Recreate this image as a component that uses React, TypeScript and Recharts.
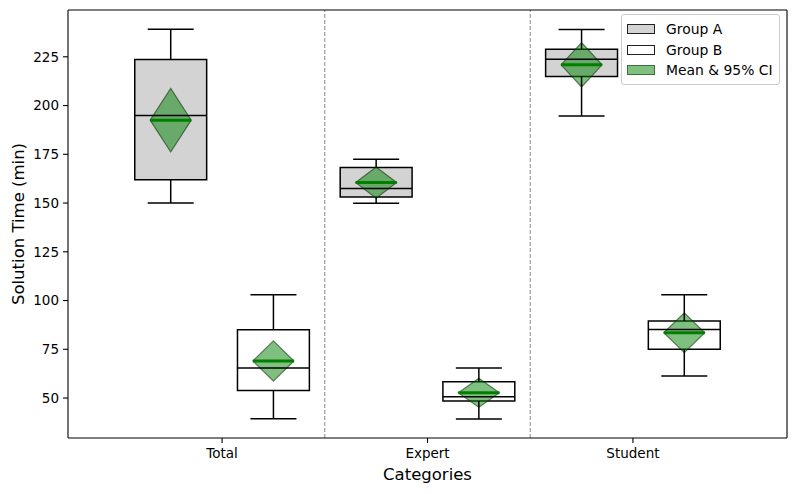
import React from "react";
import {
  ComposedChart,
  XAxis,
  YAxis,
  Scatter,
  ReferenceArea,
  ReferenceLine,
  Legend,
} from "recharts";

const categories = ["Total", "Expert", "Student"];
const yTicks = [50, 75, 100, 125, 150, 175, 200, 225];

// Group A (grey boxes)
const aLow = [150.0, 149.9, 194.7];
const aQ1 = [161.9, 153.1, 214.9];
const aMedian = [194.9, 157.4, 223.8];
const aQ3 = [223.6, 168.2, 228.9];
const aHigh = [239.1, 172.5, 239.0];
const aMean = [192.5, 160.5, 220.9];
const aCi = [16.3, 8.0, 11.4];

// Group B (white boxes)
const bLow = [39.4, 39.2, 61.3];
const bQ1 = [53.9, 48.5, 75.0];
const bMedian = [65.4, 50.7, 85.2];
const bQ3 = [85.0, 58.4, 89.5];
const bHigh = [103.0, 65.4, 103.0];
const bMean = [69.0, 52.7, 83.5];
const bCi = [10.3, 7.5, 10.2];

const legendItems = [
  { label: "Group A", fill: "#d3d3d3", stroke: "#222" },
  { label: "Group B", fill: "#fff", stroke: "#222" },
  { label: "Mean & 95% CI", fill: "rgba(0,128,0,0.5)", stroke: "rgba(0,50,0,0.55)" },
];

const W = 797;
const H = 494;
const X_DOMAIN: [number, number] = [-0.75, 2.75];
const Y_DOMAIN: [number, number] = [29.5, 249];
const OFFSET = 0.25; // group offset from category centre
const BOX = 0.175; // half box width
const CAP = 0.112; // half cap width
const DIA = 0.1; // half diamond width

const boxes = categories.flatMap((c, i) => [
  { key: `${c}-A`, x: i - OFFSET, fill: "#d3d3d3", low: aLow[i], q1: aQ1[i], med: aMedian[i], q3: aQ3[i], high: aHigh[i], mean: aMean[i], ci: aCi[i] },
  { key: `${c}-B`, x: i + OFFSET, fill: "#ffffff", low: bLow[i], q1: bQ1[i], med: bMedian[i], q3: bQ3[i], high: bHigh[i], mean: bMean[i], ci: bCi[i] },
]);

const Diamond = (p: any) => {
  const { x, y, width, height } = p;
  const cx = x + width / 2;
  const cy = y + height / 2;
  return (
    <polygon
      points={`${x},${cy} ${cx},${y} ${x + width},${cy} ${cx},${y + height}`}
      fill="rgba(0,128,0,0.5)"
      stroke="rgba(0,40,0,0.55)"
      strokeWidth={1.2}
    />
  );
};

const Nothing = () => <g />;

const LegendBox = () => (
  <div
    style={{
      background: "rgba(255,255,255,0.8)",
      border: "1px solid #ccc",
      borderRadius: 3,
      padding: "4px 5px 3px 5px",
      fontSize: 13.9,
      color: "#000",
    }}
  >
    {legendItems.map((it) => (
      <div key={it.label} style={{ display: "flex", alignItems: "center", height: 20.5 }}>
        <span
          style={{
            display: "inline-block",
            width: 26,
            height: 8,
            background: it.fill,
            border: `1.5px solid ${it.stroke}`,
            marginRight: 11,
          }}
        />
        <span>{it.label}</span>
      </div>
    ))}
  </div>
);

const line = { stroke: "#000", strokeWidth: 1.5 };
const spine = { stroke: "#000", strokeWidth: 1.1 };

export default function App() {
  return (
    <div style={{ position: "absolute", left: 0, top: 0, fontFamily: "DejaVu Sans", background: "#fff" }}>
      <ComposedChart width={W} height={H} data={boxes} margin={{ top: 9, right: 9, bottom: 6, left: 8 }}>
        <XAxis
          type="number"
          dataKey="x"
          domain={X_DOMAIN}
          allowDataOverflow
          ticks={[0, 1, 2]}
          tickFormatter={(v) => categories[v] ?? ""}
          tickSize={5}
          tickMargin={5}
          height={50}
          axisLine={spine}
          tickLine={spine}
          tick={{ fill: "#000", fontSize: 13.5 }}
          label={{ value: "Categories", position: "insideBottom", offset: 8, style: { fontSize: 16.5, fill: "#000" } }}
        />
        <XAxis xAxisId="top" orientation="top" type="number" dataKey="x" domain={X_DOMAIN} allowDataOverflow height={1} tick={false} tickLine={false} axisLine={spine} />
        <YAxis
          type="number"
          domain={Y_DOMAIN}
          allowDataOverflow
          ticks={yTicks}
          width={60}
          tickSize={5}
          tickMargin={4}
          axisLine={spine}
          tickLine={spine}
          tick={{ fill: "#000", fontSize: 13.5 }}
          label={{
            value: "Solution Time (min)",
            angle: -90,
            position: "insideLeft",
            offset: 10,
            style: { fontSize: 16.5, fill: "#000", textAnchor: "middle" },
          }}
        />
        <YAxis yAxisId="right" orientation="right" type="number" domain={Y_DOMAIN} allowDataOverflow width={1} tick={false} tickLine={false} axisLine={spine} />

        <Scatter dataKey="mean" shape={<Nothing />} isAnimationActive={false} legendType="none" />
        <Scatter dataKey="mean" xAxisId="top" yAxisId="right" shape={<Nothing />} isAnimationActive={false} legendType="none" />

        <ReferenceLine x={0.5} stroke="#888" strokeDasharray="4 2" />
        <ReferenceLine x={1.5} stroke="#888" strokeDasharray="4 2" />

        {boxes.map((b) => [
          <ReferenceLine key={b.key + "wl"} segment={[{ x: b.x, y: b.low }, { x: b.x, y: b.q1 }]} {...line} />,
          <ReferenceLine key={b.key + "wh"} segment={[{ x: b.x, y: b.q3 }, { x: b.x, y: b.high }]} {...line} />,
          <ReferenceLine key={b.key + "cl"} segment={[{ x: b.x - CAP, y: b.low }, { x: b.x + CAP, y: b.low }]} {...line} />,
          <ReferenceLine key={b.key + "ch"} segment={[{ x: b.x - CAP, y: b.high }, { x: b.x + CAP, y: b.high }]} {...line} />,
          <ReferenceArea key={b.key + "box"} x1={b.x - BOX} x2={b.x + BOX} y1={b.q1} y2={b.q3} fill={b.fill} fillOpacity={1} stroke="#000" strokeWidth={1.5} />,
          <ReferenceLine key={b.key + "med"} segment={[{ x: b.x - BOX, y: b.med }, { x: b.x + BOX, y: b.med }]} {...line} />,
          <ReferenceArea key={b.key + "dia"} x1={b.x - DIA} x2={b.x + DIA} y1={b.mean - b.ci} y2={b.mean + b.ci} shape={Diamond} />,
          <ReferenceLine key={b.key + "mean"} segment={[{ x: b.x - DIA, y: b.mean }, { x: b.x + DIA, y: b.mean }]} stroke="#008000" strokeWidth={3} />,
        ])}

        <Legend
          layout="vertical"
          align="center"
          verticalAlign="middle"
          content={<LegendBox />}
          wrapperStyle={{ top: 14, left: 621, width: 159, height: "auto" }}
        />
      </ComposedChart>
    </div>
  );
}
